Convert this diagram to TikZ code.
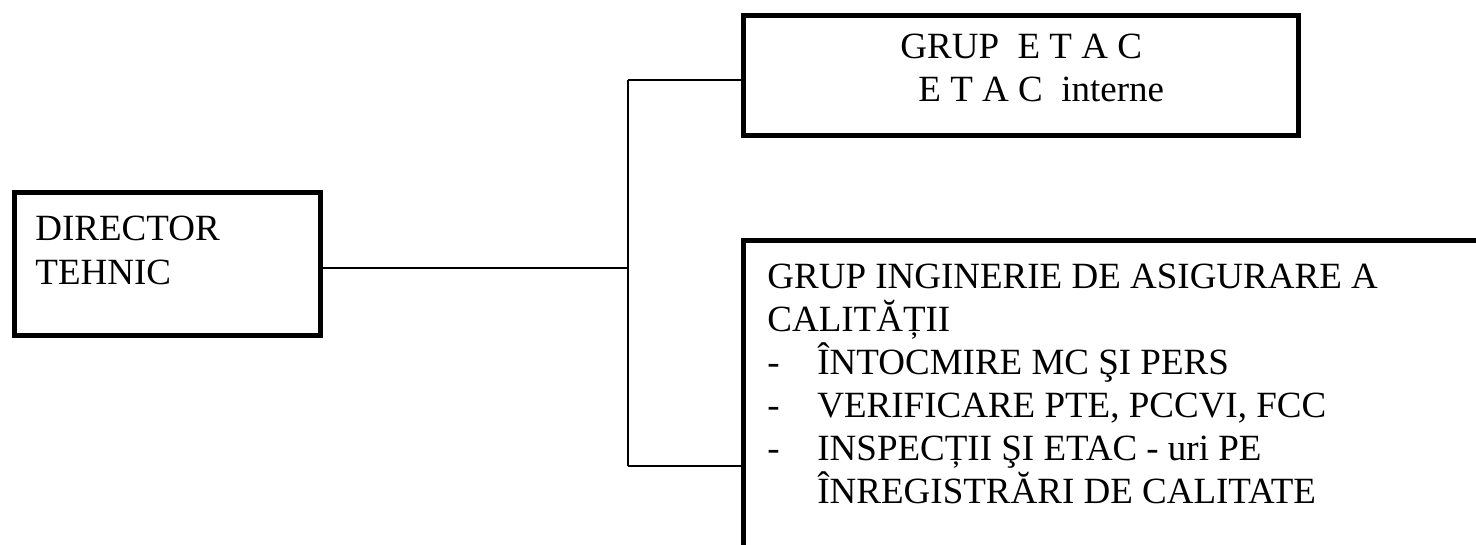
\documentclass[tikz,border=0pt]{standalone}
\usepackage{fontspec}
\setmainfont{Liberation Serif}
\newcommand\boxfont{\fontsize{18.5pt}{21.5pt}\selectfont}

\begin{document}
\begin{tikzpicture}[x=0.5pt, y=-0.5pt,
  box/.style={draw, line width=2.5pt, rectangle, inner sep=0, outer sep=0},
  txt/.style={anchor=base west, inner sep=0, align=left, font=\boxfont},
  link/.style={line width=0.9pt}]

\useasboundingbox (0,0) rectangle (1476,545);
\clip (0,0) rectangle (1476,545);

% boxes
\node[box, minimum width=152.75pt, minimum height=71.5pt] (dir) at (167.25,264) {};
\node[box, minimum width=277.5pt, minimum height=60pt] (etac) at (1020.5,76) {};
\node[box, minimum width=388.5pt, minimum height=179.75pt] (grp) at (1131.5,420.25) {};

% texts (base = last line)
\node[txt] (dir-t) at (35,284) {DIRECTOR\\TEHNIC};
\node[txt] (etac-t) at (900,102) {GRUP~~E T A C\\\hspace*{9pt}E T A C~~interne};
\node[txt] (grp-t) at (767,503) {GRUP INGINERIE DE ASIGURARE A\\
CALITĂȚII\\
\makebox[25pt][l]{-}ÎNTOCMIRE MC ŞI PERS\\
\makebox[25pt][l]{-}VERIFICARE PTE, PCCVI, FCC\\
\makebox[25pt][l]{-}INSPECȚII ŞI ETAC - uri PE\\
\hspace*{25pt}ÎNREGISTRĂRI DE CALITATE};

% connectors
\coordinate (t-mid) at (628,268);
\coordinate (t-top) at (628,80);
\coordinate (t-bot) at (628,466);

\draw[link] (dir.east |- t-mid) -- (t-mid);
\draw[link] (t-top) -- (t-bot);
\draw[link] (t-top) -- (t-top -| etac.west);
\draw[link] (t-bot) -- (t-bot -| grp.west);

\end{tikzpicture}
\end{document}
